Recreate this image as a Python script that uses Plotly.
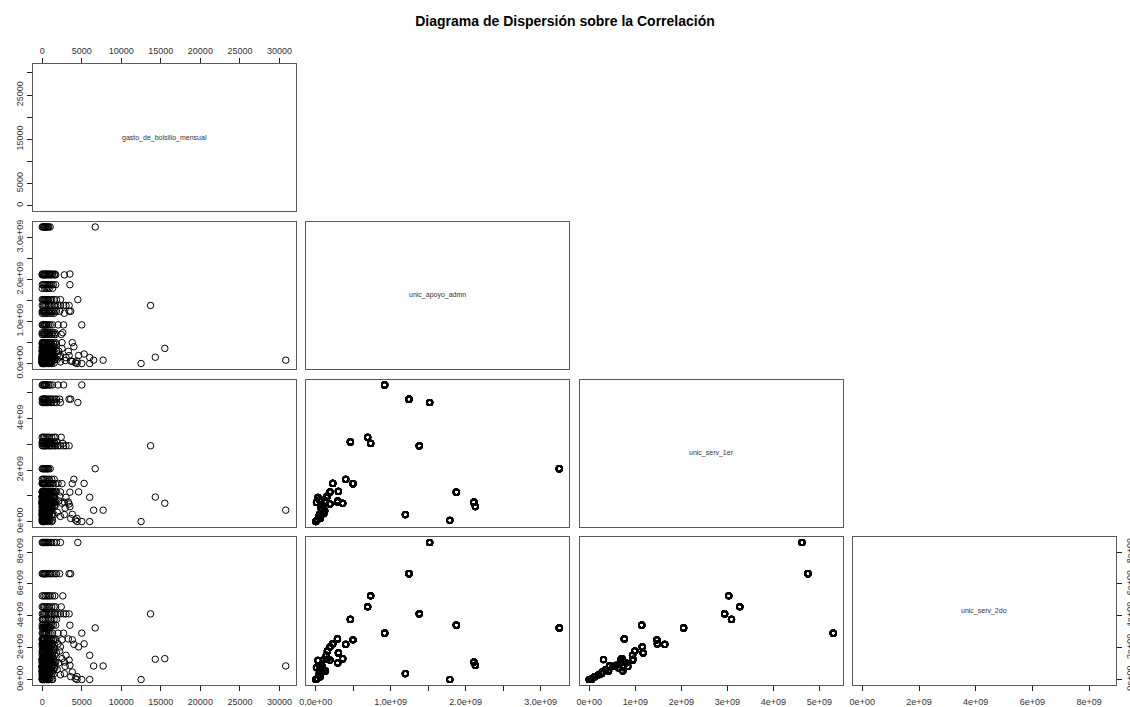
import plotly.graph_objects as go

titulo = "Diagrama de Dispersión sobre la Correlación"
variables = ["gasto_de_bolsillo_mensual", "unic_apoyo_admn", "unic_serv_1er", "unic_serv_2do"]

unidad_apoyo_admn = [3.25e9, 2.11e9, 2.13e9, 1.876e9, 1.79e9, 1.52e9, 1.382e9, 1.244e9, 1.196e9, 0.92e9,
                     0.693e9, 0.733e9, 0.462e9, 0.497e9, 0.40e9, 0.227e9, 0.191e9, 0.302e9, 0.29e9, 0.36e9,
                     0.156e9, 0.142e9, 0.15e9, 0.08e9, 0.294e9, 0.19e9, 0.0, 0.02e9, 0.05e9, 0.07e9,
                     0.01e9, 0.12e9, 0.03e9, 0.11e9, 0.09e9, 0.04e9, 0.06e9, 0.10e9, 0.05e9, 0.13e9]
unidad_serv_1er = [2.05e9, 0.75e9, 0.58e9, 1.14e9, 0.05e9, 4.62e9, 2.94e9, 4.75e9, 0.27e9, 5.30e9,
                   3.27e9, 3.03e9, 3.09e9, 1.47e9, 1.64e9, 1.48e9, 1.15e9, 1.17e9, 0.76e9, 0.71e9,
                   0.99e9, 0.94e9, 0.95e9, 0.44e9, 0.80e9, 0.68e9, 0.0, 0.06e9, 0.28e9, 0.52e9,
                   0.74e9, 0.42e9, 0.94e9, 0.31e9, 0.64e9, 0.20e9, 0.12e9, 0.36e9, 0.84e9, 0.73e9]
unidad_serv_2do = [3.24e9, 1.10e9, 0.89e9, 3.41e9, 0.0, 8.60e9, 4.12e9, 6.64e9, 0.37e9, 2.91e9,
                   4.56e9, 5.25e9, 3.77e9, 2.49e9, 2.21e9, 2.24e9, 2.05e9, 1.67e9, 2.55e9, 1.31e9,
                   1.79e9, 1.52e9, 1.27e9, 0.85e9, 1.04e9, 1.22e9, 0.0, 0.06e9, 0.47e9, 0.83e9,
                   0.75e9, 0.54e9, 1.20e9, 1.25e9, 0.73e9, 0.30e9, 0.18e9, 0.62e9, 0.82e9, 0.54e9]
gasto_por_unidad = [
    [0, 100, 200, 300, 400, 500, 600, 700, 800, 1000, 6700],
    [0, 150, 300, 450, 600, 800, 1000, 1200, 1500, 1700, 2800],
    [0, 200, 400, 600, 800, 1000, 1300, 1600, 3500],
    [0, 150, 300, 450, 600, 800, 1000, 1200, 1400, 1700, 3500],
    [0, 300, 500, 700, 900, 1300],
    [0, 100, 200, 300, 400, 500, 600, 700, 800, 1000, 1200, 1500, 1800, 2300, 4500],
    [0, 150, 300, 450, 600, 800, 1000, 1200, 1500, 1700, 2000, 2300, 2700, 3000, 3400, 13700],
    [0, 100, 200, 300, 400, 500, 700, 900, 1100, 1300, 1600, 1800, 2200, 3400, 3600],
    [0, 200, 400, 600, 900, 1200, 1500, 2800],
    [0, 100, 200, 300, 400, 500, 600, 800, 1000, 1300, 2000, 2700, 5000],
    [0, 150, 300, 500, 700, 900, 1200, 1500, 1700, 2400],
    [0, 200, 400, 600, 800, 1000, 1300, 1600, 2600],
    [0, 100, 200, 400, 600, 800, 1000, 1200, 1500, 1800],
    [0, 100, 200, 300, 500, 700, 900, 1100, 1400, 1700, 2500, 3800],
    [0, 150, 300, 500, 700, 900, 1200, 1500, 4000],
    [0, 100, 200, 300, 400, 600, 800, 1000, 1300, 2000, 5300],
    [0, 100, 200, 300, 500, 700, 900, 1100, 1400, 2300, 4600],
    [0, 200, 400, 600, 800, 1000, 1300, 1800],
    [0, 150, 300, 500, 700, 900, 1200, 1500, 3300],
    [0, 200, 400, 600, 800, 1100, 1400, 2500, 15500],
    [0, 100, 200, 300, 500, 700, 900, 1200, 1500, 2200],
    [0, 150, 300, 500, 700, 1000, 1300, 1600, 3000, 6000],
    [0, 200, 400, 700, 1000, 1400, 14300],
    [0, 100, 200, 300, 500, 700, 900, 1200, 6500, 7700, 30800],
    [0, 200, 400, 600, 900, 1200, 2100],
    [0, 150, 300, 500, 800, 1100, 3400],
    [0, 100, 200, 300, 500, 800, 1200, 4400, 5000, 6000, 12500],
    [0, 200, 400, 700, 1000, 4200],
    [0, 100, 200, 400, 600, 900, 1300, 3800],
    [0, 150, 300, 600, 900, 1200, 2900],
    [0, 200, 400, 700, 1000, 1500],
    [0, 100, 300, 500, 800, 1100],
    [0, 200, 400, 700, 1000],
    [0, 150, 300, 600, 900],
    [0, 200, 500, 800, 1600],
    [0, 100, 300, 500, 800, 2300],
    [0, 200, 400, 700, 3600, 4400],
    [0, 100, 300, 600, 1000, 1900],
    [0, 200, 500, 900],
    [0, 150, 400, 700, 1200],
]

# Marcas de los ejes
ticks_gasto = [0, 5000, 10000, 15000, 20000, 25000, 30000]
etiquetas_gasto_x = ["0", "5000", "10000", "15000", "20000", "25000", "30000"]
etiquetas_gasto_y = ["0", "5000", "", "15000", "", "25000", ""]
ticks_admn = [0, 0.5e9, 1.0e9, 1.5e9, 2.0e9, 2.5e9, 3.0e9]
etiquetas_admn = ["0.0e+00", "", "1.0e+09", "", "2.0e+09", "", "3.0e+09"]
ticks_serv1 = [0, 1e9, 2e9, 3e9, 4e9, 5e9]
etiquetas_serv1_x = ["0e+00", "1e+09", "2e+09", "3e+09", "4e+09", "5e+09"]
etiquetas_serv1_y = ["0e+00", "", "2e+09", "", "4e+09", ""]
ticks_serv2 = [0, 2e9, 4e9, 6e9, 8e9]
etiquetas_serv2 = ["0e+00", "2e+09", "4e+09", "6e+09", "8e+09"]

# ---- construir observaciones ----
gasto, admn, serv1, serv2 = [], [], [], []
for i, lista in enumerate(gasto_por_unidad):
    for g in lista:
        gasto.append(g)
        admn.append(unidad_apoyo_admn[i])
        serv1.append(unidad_serv_1er[i])
        serv2.append(unidad_serv_2do[i])
datos = [gasto, admn, serv1, serv2]


def rango(v):
    lo, hi = min(v), max(v)
    d = (hi - lo) * 0.04
    return [lo - d, hi + d]


rangos = [rango(v) for v in datos]
ticks_x = [(ticks_gasto, etiquetas_gasto_x), (ticks_admn, etiquetas_admn),
           (ticks_serv1, etiquetas_serv1_x), (ticks_serv2, etiquetas_serv2)]
ticks_y = [(ticks_gasto, etiquetas_gasto_y), (ticks_admn, etiquetas_admn),
           (ticks_serv1, etiquetas_serv1_y), (ticks_serv2, etiquetas_serv2)]

W, H = 1130, 707
col_px = [(32.5, 295.5), (306, 569), (579.5, 843), (852.5, 1116)]
row_px = [(64, 211), (221.5, 369), (379.5, 527), (537, 685)]
FONT = "Liberation Sans, Arial, Helvetica, sans-serif"

fig = go.Figure()
layout = {}
annotations = []


def base_axis(dom, rng, anchor):
    return dict(domain=dom, range=rng, anchor=anchor, showgrid=False, zeroline=False,
                showline=True, mirror=True, linecolor="#5a5a5a", linewidth=1,
                ticks="", showticklabels=False, fixedrange=True, automargin=False)


def add_ticks(ax, vals, text, side, vertical=False, standoff=None):
    ax.update(ticks="outside", ticklen=5, tickwidth=1, tickcolor="#222",
              tickvals=vals, ticktext=text, showticklabels=True, side=side,
              tickfont=dict(size=9, color="#333", family=FONT))
    if vertical:
        ax["tickangle"] = -90
    if standoff is not None:
        ax["ticklabelstandoff"] = standoff


k = 0
for r in range(4):
    for c in range(r + 1):
        k += 1
        xid = "x" if k == 1 else f"x{k}"
        yid = "y" if k == 1 else f"y{k}"
        xdom = [col_px[c][0] / W, col_px[c][1] / W]
        ydom = [1 - row_px[r][1] / H, 1 - row_px[r][0] / H]
        xa = base_axis(xdom, rangos[c], yid)
        ya = base_axis(ydom, rangos[r], xid)
        if r == 3:
            add_ticks(xa, ticks_x[c][0], ticks_x[c][1], "bottom", standoff=3)
        if r == 0 and c == 0:
            add_ticks(xa, ticks_x[c][0], ticks_x[c][1], "top")
        if c == 0:
            add_ticks(ya, ticks_y[r][0], ticks_y[r][1], "left", vertical=True)
        if r == 3 and c == 3:
            add_ticks(ya, ticks_y[r][0], ticks_y[r][1], "right", vertical=True)
        layout["xaxis" if k == 1 else f"xaxis{k}"] = xa
        layout["yaxis" if k == 1 else f"yaxis{k}"] = ya
        if r == c:
            # panel diagonal: traza vacía para que el subgráfico se dibuje
            fig.add_trace(go.Scatter(x=[None], y=[None], mode="markers", xaxis=xid, yaxis=yid,
                                     hoverinfo="skip", showlegend=False))
            annotations.append(dict(text=variables[r], xref=f"{xid} domain", yref=f"{yid} domain",
                                    x=0.5, y=0.5, showarrow=False,
                                    font=dict(size=7, color="#333", family=FONT)))
        else:
            if c == 0:
                mk = dict(symbol="circle-open", size=6.5, color="black",
                          line=dict(width=1, color="black"))
            else:
                mk = dict(symbol="circle-open", size=5.5, color="black",
                          line=dict(width=1.7, color="black"))
            fig.add_trace(go.Scatter(
                x=datos[c], y=datos[r], mode="markers", xaxis=xid, yaxis=yid,
                marker=mk, hoverinfo="skip", showlegend=False, cliponaxis=False))

fig.update_layout(**layout)
fig.update_layout(
    width=W, height=H, margin=dict(l=0, r=0, t=0, b=0, pad=0, autoexpand=False),
    autosize=False,
    paper_bgcolor="white", plot_bgcolor="white",
    annotations=annotations,
    title=dict(text=f"<b>{titulo}</b>", x=0.5, xanchor="center", xref="paper",
               y=1 - 21 / H, yref="paper", yanchor="middle", automargin=False,
               font=dict(size=14, color="black", family=FONT)),
)
fig.write_html("out.html")
